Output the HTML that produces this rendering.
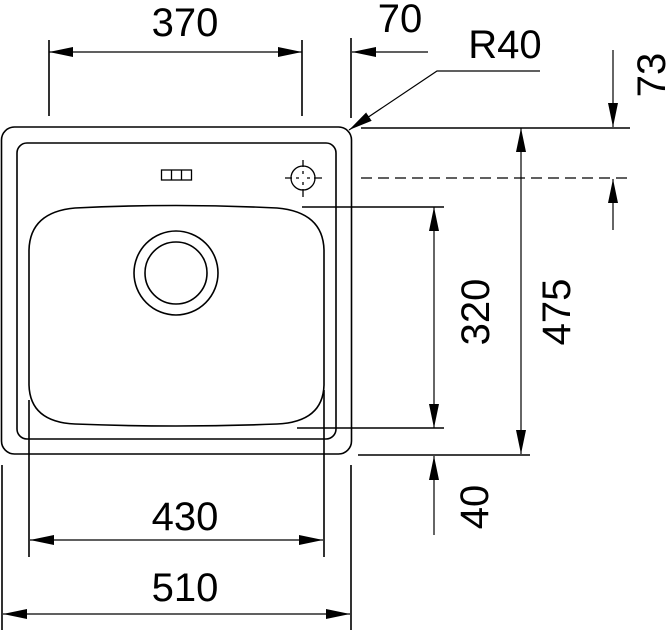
<!DOCTYPE html>
<html><head><style>html,body{margin:0;padding:0;background:#fff}svg{display:block}</style></head>
<body>
<svg width="669" height="630" viewBox="0 0 669 630" xmlns="http://www.w3.org/2000/svg">
<defs>
<marker id="a" viewBox="0 0 24 10" refX="24" refY="5" markerWidth="24" markerHeight="10" markerUnits="userSpaceOnUse" orient="auto-start-reverse"><path d="M0,0 L24,5 L0,10 Z" fill="#000"/></marker>
</defs>
<g fill="none" stroke="#000" stroke-width="1.6">
<rect x="1.5" y="127" width="350" height="327" rx="13"/>
<rect x="17" y="143" width="319" height="296" rx="10"/>
<path d="M75,208 Q176,203 277,208 Q323,212 324,250 L324,385 Q323,422 277,424 Q176,428 75,424 Q30,422 29,385 L29,250 Q30,212 75,208 Z"/>
<circle cx="176" cy="273" r="42"/>
<circle cx="176" cy="273" r="31"/>
<rect x="161.5" y="170" width="30" height="10" stroke-width="1.3"/>
<line x1="171.5" y1="170" x2="171.5" y2="180" stroke-width="1.3"/>
<line x1="181.5" y1="170" x2="181.5" y2="180" stroke-width="1.3"/>
<circle cx="303" cy="178" r="12" stroke-width="1.3"/>
<path d="M285,178h7M296,178h3M307,178h3M314,178h8M303,160v7M303,171v3M303,182v3M303,189v8" stroke-width="1.3"/>
<!-- top dims -->
<path d="M49,40v76M302,40v76M351,38v80"/>
<line x1="49" y1="52" x2="302" y2="52" stroke-width="1.2" marker-start="url(#a)" marker-end="url(#a)"/>
<line x1="428" y1="52" x2="352" y2="52" stroke-width="1.2" marker-end="url(#a)"/>
<path d="M540,71H437L349,130" stroke-width="1.2" marker-end="url(#a)"/>
<!-- right dims -->
<path d="M361,128H630"/>
<path d="M361,178H630" stroke-dasharray="11,6" stroke-width="1.3"/>
<line x1="613" y1="50" x2="613" y2="127" stroke-width="1.2" marker-end="url(#a)"/>
<line x1="613" y1="230" x2="613" y2="179" stroke-width="1.2" marker-end="url(#a)"/>
<line x1="521" y1="128" x2="521" y2="454" stroke-width="1.2" marker-start="url(#a)" marker-end="url(#a)"/>
<path d="M302,207H444M297,428H444M358,455H530"/>
<line x1="434" y1="207" x2="434" y2="428" stroke-width="1.2" marker-start="url(#a)" marker-end="url(#a)"/>
<line x1="434" y1="535" x2="434" y2="456" stroke-width="1.2" marker-end="url(#a)"/>
<!-- bottom dims -->
<path d="M29,400V557M324,390V557M2,465V630M351,465V630"/>
<line x1="30" y1="540" x2="323" y2="540" stroke-width="1.2" marker-start="url(#a)" marker-end="url(#a)"/>
<line x1="3" y1="614" x2="350" y2="614" stroke-width="1.2" marker-start="url(#a)" marker-end="url(#a)"/>
</g>
<g font-family="Liberation Sans, sans-serif" font-size="40" fill="#000" text-anchor="middle">
<text x="185" y="36">370</text>
<text x="400" y="32">70</text>
<text x="505" y="58">R40</text>
<text x="185" y="530">430</text>
<text x="185" y="601">510</text>
<text transform="translate(665,75) rotate(-90)">73</text>
<text transform="translate(570,312) rotate(-90)">475</text>
<text transform="translate(489,312) rotate(-90)">320</text>
<text transform="translate(488,507) rotate(-90)">40</text>
</g>
</svg>
</body></html>
